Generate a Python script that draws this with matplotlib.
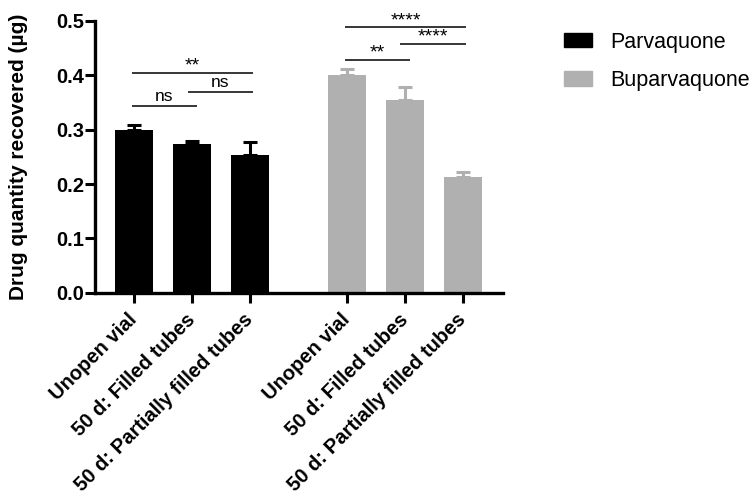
import numpy as np
import matplotlib.pyplot as plt
from matplotlib.patches import Patch

plt.rcParams['font.family'] = ['Liberation Sans', 'DejaVu Sans']

categories = ['Unopen vial', '50 d: Filled tubes', '50 d: Partially filled tubes']
parva_mean = [0.300, 0.273, 0.253]
parva_err = [0.009, 0.007, 0.025]
bupa_mean = [0.401, 0.355, 0.213]
bupa_err = [0.011, 0.024, 0.009]

parva_x = np.array([0, 1, 2])
bupa_x = np.array([3.67, 4.67, 5.67])

# significance brackets: (x start, x end, y, label)
sig_lines = [
    (-0.03, 1.08, 0.344, 'ns'),
    (0.93, 2.05, 0.370, 'ns'),
    (-0.03, 2.05, 0.404, '**'),
    (3.64, 4.76, 0.428, '**'),
    (4.59, 5.72, 0.458, '****'),
    (3.64, 5.72, 0.488, '****'),
]

black = '#000000'
grey = '#b0b0b0'

fig = plt.figure(figsize=(7.54, 4.98), dpi=100)
ax = fig.add_axes([0.126, 0.412, 0.541, 0.546])

w = 0.655
ax.bar(parva_x, parva_mean, width=w, color=black, zorder=2)
ax.errorbar(parva_x, parva_mean, yerr=[np.zeros(3), parva_err], fmt='none',
            ecolor=black, elinewidth=2.2, capsize=5, capthick=2.2, zorder=1)
ax.bar(bupa_x, bupa_mean, width=w, color=grey, zorder=2)
ax.errorbar(bupa_x, bupa_mean, yerr=[np.zeros(3), bupa_err], fmt='none',
            ecolor=grey, elinewidth=2.2, capsize=5, capthick=2.2, zorder=1)

for x0, x1, y, lab in sig_lines:
    ax.plot([x0, x1], [y, y], color='black', lw=1.1, solid_capstyle='butt')
    if lab == 'ns':
        ax.text((x0 + x1) / 2, y + 0.003, lab, ha='center', va='bottom', fontsize=12.5)
    else:
        ax.text((x0 + x1) / 2, y - 0.003, lab, ha='center', va='bottom', fontsize=14)

ax.set_xlim(-0.67, 6.36)
ax.set_ylim(0, 0.5)
ax.set_yticks([0.0, 0.1, 0.2, 0.3, 0.4, 0.5])
ax.set_yticklabels(['0.0', '0.1', '0.2', '0.3', '0.4', '0.5'], fontsize=14.5, fontweight='bold')
ax.set_xticks(list(parva_x) + list(bupa_x))
ax.set_xticklabels(categories * 2, rotation=45, ha='right', va='center',
                   rotation_mode='anchor', fontsize=14.5, fontweight='bold')
ax.set_ylabel('Drug quantity recovered (µg)', fontsize=15, fontweight='bold', labelpad=20)

for s in ['top', 'right']:
    ax.spines[s].set_visible(False)
for s in ['left', 'bottom']:
    ax.spines[s].set_linewidth(2.4)
ax.tick_params(axis='both', direction='out', length=7, width=2.2)
ax.tick_params(axis='y', pad=1)
ax.tick_params(axis='x', pad=10)

handles = [Patch(color=black), Patch(color=grey)]
fig.legend(handles, ['Parvaquone', 'Buparvaquone'], loc='upper left',
           bbox_to_anchor=(0.722, 0.975), frameon=False, fontsize=15.5,
           handlelength=1.3, handleheight=0.65, labelspacing=0.8, handletextpad=0.85)

fig.savefig('out.png', dpi=100)
